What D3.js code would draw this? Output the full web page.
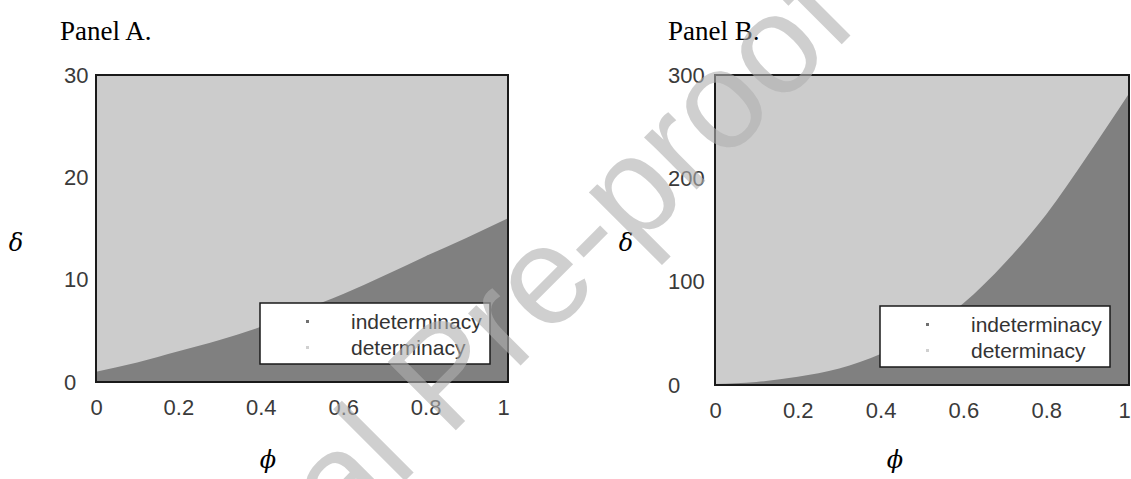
<!DOCTYPE html>
<html>
<head>
<meta charset="utf-8">
<script src="https://cdn.jsdelivr.net/npm/d3@7"></script>
<style>
  body { margin: 0; background: #ffffff; }
  svg { display: block; }
</style>
</head>
<body>
<div id="fig"></div>
<script>
// values
const phiGrid = [0, 0.1, 0.2, 0.3, 0.4, 0.5, 0.6, 0.7, 0.8, 0.9, 1.0];
const deltaA = [1.0, 1.9, 3.0, 4.1, 5.4, 7.0, 8.6, 10.4, 12.3, 14.1, 16.0];
const deltaB = [1, 3, 8, 16, 30, 50, 79, 118, 165, 222, 282];

const xTicks = [0, 0.2, 0.4, 0.6, 0.8, 1];
const yTicksA = [0, 10, 20, 30];
const yTicksB = [0, 100, 200, 300];
const legendLabels = ["indeterminacy", "determinacy"];
const panelTitles = ["Panel A.", "Panel B."];

let light = "#cccccc", dark = "#808080", tick_color = "#3a3a3a";

let svg = d3.select("#fig").append("svg")
    .attr("width", 1131)
    .attr("height", 479);

let drawPanel = function(cfg) {
    let x = d3.scaleLinear().domain([0, 1]).range([cfg.left, cfg.right]);
    let y = d3.scaleLinear().domain([0, cfg.ymax]).range([cfg.bottom, cfg.top]);
    let g = svg.append("g");

    // determinacy region (background)
    g.append("rect")
        .attr("x", x(0)).attr("y", y(cfg.ymax))
        .attr("width", x(1) - x(0)).attr("height", y(0) - y(cfg.ymax))
        .attr("fill", light);

    // indeterminacy region below the boundary
    let pts = phiGrid.map((p, i) => [p, cfg.delta[i]]);
    g.append("path")
        .datum(pts)
        .attr("fill", dark)
        .attr("d", d3.area()
            .x(d => x(d[0]))
            .y0(y(0))
            .y1(d => y(d[1]))
            .curve(d3.curveMonotoneX));

    // frame
    g.append("rect")
        .attr("x", x(0)).attr("y", y(cfg.ymax))
        .attr("width", x(1) - x(0)).attr("height", y(0) - y(cfg.ymax))
        .attr("fill", "none")
        .attr("stroke", "#1a1a1a")
        .attr("stroke-width", 2);

    // x axis labels
    let xa = g.append("g")
        .attr("transform", `translate(0,${cfg.bottom + 14})`)
        .call(d3.axisBottom(x).tickValues(xTicks).tickSize(0).tickFormat(d3.format("~g")));
    xa.select(".domain").remove();
    xa.selectAll("text")
        .attr("fill", tick_color)
        .attr("dx", d => d == 1 ? -5 : 0)
        .style("font-family", "Liberation Sans, Arial, sans-serif")
        .style("font-size", "22px");

    // y axis labels, left aligned like the original
    let ya = g.append("g")
        .attr("transform", `translate(${cfg.ylabelX},0)`)
        .call(d3.axisLeft(y).tickValues(cfg.yticks).tickSize(0));
    ya.select(".domain").remove();
    ya.selectAll("text")
        .attr("x", 0)
        .attr("text-anchor", "start")
        .attr("fill", tick_color)
        .style("font-family", "Liberation Sans, Arial, sans-serif")
        .style("font-size", "22px");

    // panel title
    svg.append("text")
        .attr("x", cfg.titleX).attr("y", 40)
        .style("font-family", "Liberation Serif, Times New Roman, serif")
        .style("font-size", "27px")
        .attr("fill", "#000")
        .text(cfg.title);

    // axis symbols
    svg.append("text")
        .attr("x", cfg.deltaX).attr("y", 251)
        .attr("text-anchor", "middle")
        .style("font-family", "DejaVu Serif, serif")
        .style("font-style", "italic")
        .style("font-size", "24px")
        .text("δ");
    svg.append("text")
        .attr("x", cfg.phiX).attr("y", 468)
        .attr("text-anchor", "middle")
        .style("font-family", "DejaVu Serif, serif")
        .style("font-style", "italic")
        .style("font-size", "24px")
        .text("ϕ");

    // legend
    let lg = g.append("g").attr("transform", `translate(${cfg.legX},${cfg.legY})`);
    lg.append("rect")
        .attr("width", 230).attr("height", 61)
        .attr("fill", "#fff")
        .attr("stroke", "#1a1a1a")
        .attr("stroke-width", 1.5);
    legendLabels.forEach((lab, i) => {
        lg.append("rect")
            .attr("x", 46).attr("y", 17 + i * 26)
            .attr("width", 3).attr("height", 3)
            .attr("fill", i == 0 ? "#707070" : "#d0d0d0");
        lg.append("text")
            .attr("x", 91).attr("y", 26 + i * 26)
            .attr("fill", "#333")
            .style("font-family", "Liberation Sans, Arial, sans-serif")
            .style("font-size", "21px")
            .text(lab);
    });
};

drawPanel({left: 96, right: 508, top: 75, bottom: 382, ymax: 30, delta: deltaA,
           yticks: yTicksA, ylabelX: 64, title: panelTitles[0], titleX: 60,
           deltaX: 16, phiX: 268, legX: 260, legY: 303});
drawPanel({left: 715, right: 1129, top: 75, bottom: 385, ymax: 300, delta: deltaB,
           yticks: yTicksB, ylabelX: 668, title: panelTitles[1], titleX: 668,
           deltaX: 626, phiX: 895, legX: 880, legY: 306});

// "Journal Pre-proof" watermark on top
svg.append("text")
    .attr("transform", "translate(478,408) rotate(-45)")
    .attr("text-anchor", "middle")
    .style("font-family", "Liberation Sans, Arial, sans-serif")
    .style("font-size", "140px")
    .attr("fill", "#b0b0b0")
    .attr("opacity", 0.6)
    .text("Journal Pre-proof");
</script>
</body>
</html>
